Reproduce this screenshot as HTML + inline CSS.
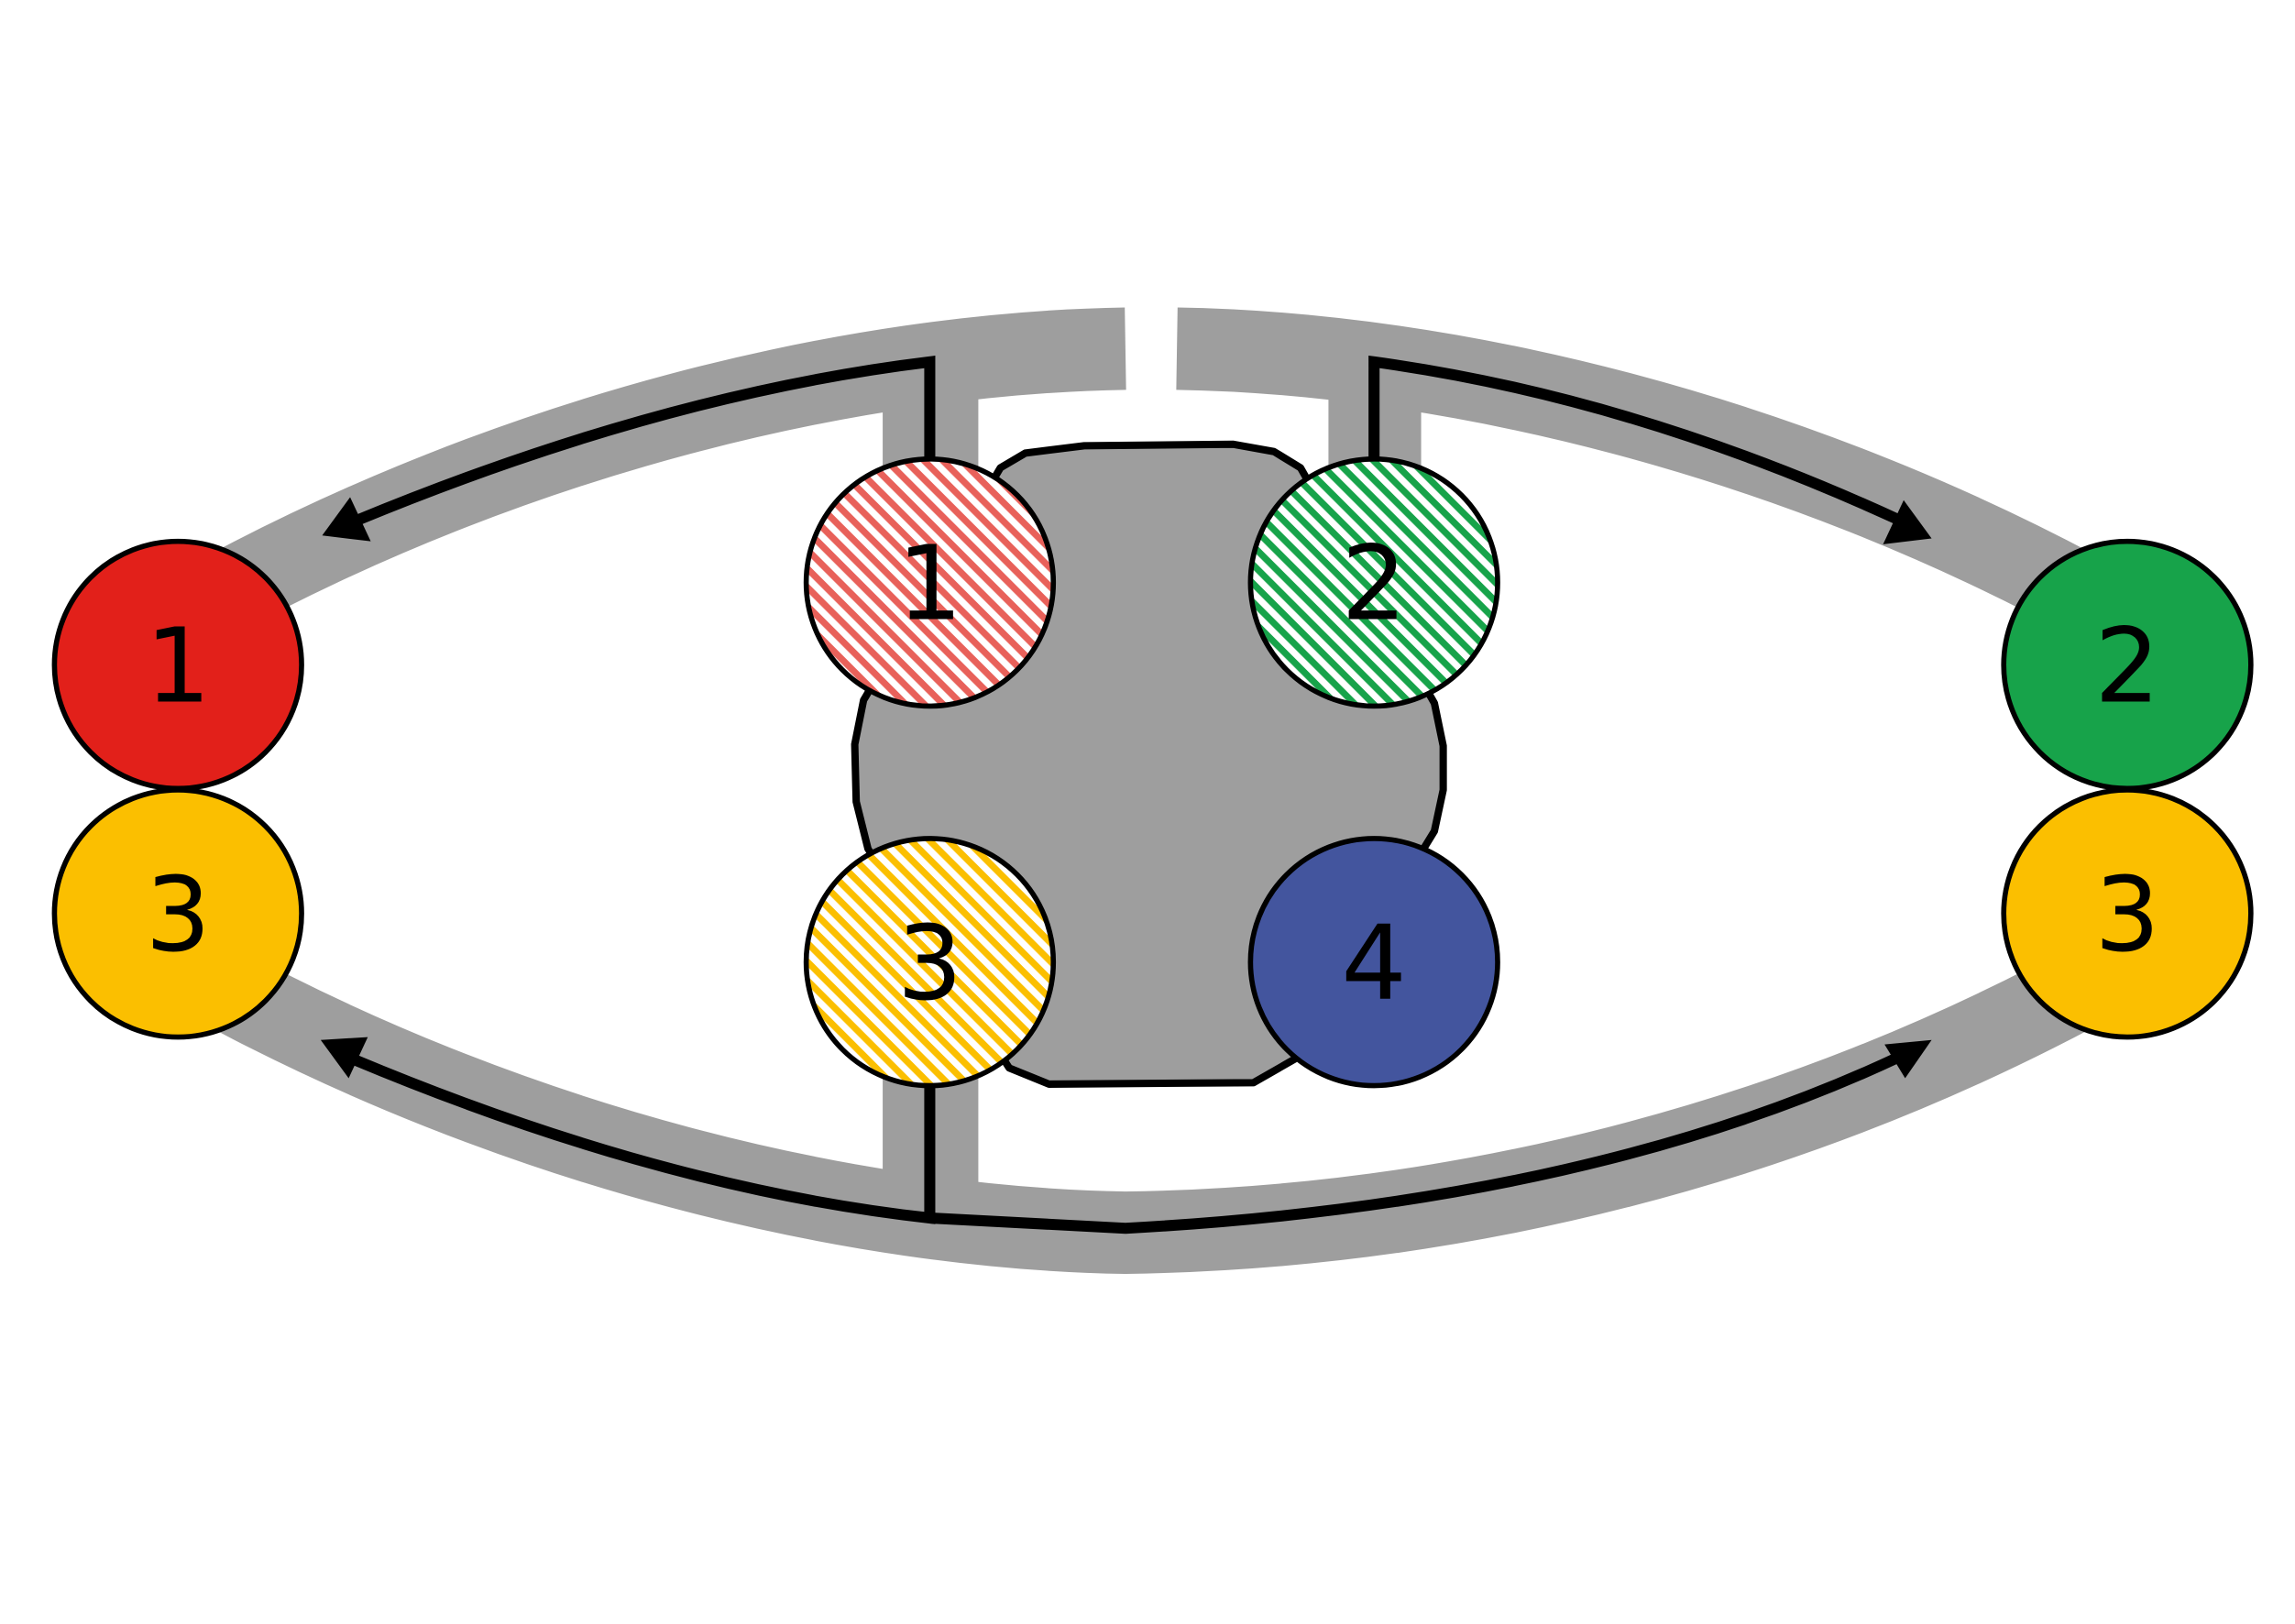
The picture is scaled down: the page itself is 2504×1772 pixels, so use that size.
<!DOCTYPE html>
<html><head><style>html,body{margin:0;padding:0;background:#fff}svg{display:block}</style></head>
<body>
<svg width="2504" height="1772" viewBox="0 0 1560 1104" preserveAspectRatio="none" xmlns="http://www.w3.org/2000/svg">
<defs>
<pattern id="pr" width="9" height="9" patternUnits="userSpaceOnUse" patternTransform="rotate(45)"><rect width="9" height="9" fill="#fff"/><rect width="9" height="4.5" fill="#e8615a"/></pattern>
<pattern id="pg" width="9" height="9" patternUnits="userSpaceOnUse" patternTransform="rotate(45)"><rect width="9" height="9" fill="#fff"/><rect width="9" height="4.5" fill="#17a34a"/></pattern>
<pattern id="py" width="9" height="9" patternUnits="userSpaceOnUse" patternTransform="rotate(45)"><rect width="9" height="9" fill="#fff"/><rect width="9" height="4.5" fill="#fbbf00"/></pattern>
</defs>
<g fill="none" stroke="#9e9e9e" stroke-width="56">
<path d="M140,410 C350,295 580,240 765,237"/>
<path d="M1426,410 C1216,295 986,240 800,237"/>
<path d="M140,665 C350,780 580,835 765,838 C986,835 1216,780 1426,665"/>
</g>
<g fill="#9e9e9e">
<rect x="600" y="255" width="65" height="70"/>
<rect x="903" y="255" width="63" height="70"/>
<rect x="600" y="728" width="65" height="82"/>
</g>
<polygon points="680,318 697,308 737,303 838,302 866,307 884,318 975,478 981,507 981,537 975,565 880,720 852,736 713,737 686,726 590,577 582,545 581,506 587,476" fill="#9e9e9e" stroke="#000" stroke-width="5" stroke-linejoin="round"/>
<g fill="none" stroke="#000" stroke-width="7.5">
<path d="M632,312 V246 Q450,268 242,354"/>
<path d="M934,312 V246 Q1110,270 1292,354"/>
<path d="M632,737 V828 Q450,808 240,720"/>
<path d="M632,828 L765,835 Q1080,818 1292,718"/>
</g>
<g fill="#000">
<polygon points="219,364 238,338 252,368"/>
<polygon points="1313,366 1294,340 1280,370"/>
<polygon points="218,707 250,705 237,733"/>
<polygon points="1313,707 1281,710 1295,733"/>
</g>
<g stroke="#000" stroke-width="3.5">
<circle cx="121" cy="452" r="84" fill="#e2201a"/>
<circle cx="121" cy="621" r="84" fill="#fbbf00"/>
<circle cx="1446" cy="452" r="84" fill="#17a34a"/>
<circle cx="1446" cy="621" r="84" fill="#fbbf00"/>
<circle cx="632" cy="396" r="84" fill="url(#pr)"/>
<circle cx="934" cy="396" r="84" fill="url(#pg)"/>
<circle cx="632" cy="654" r="84" fill="url(#py)"/>
<circle cx="934" cy="654" r="84" fill="#43559e"/>
</g>
<g font-family="DejaVu Sans, Liberation Sans, sans-serif" font-size="70" text-anchor="middle" fill="#000">
<text x="121" y="477">1</text>
<text x="121" y="646">3</text>
<text x="1446" y="477">2</text>
<text x="1446" y="646">3</text>
<text x="632" y="421">1</text>
<text x="934" y="421">2</text>
<text x="632" y="679">3</text>
<text x="934" y="679">4</text>
</g>
</svg>
</body></html>
